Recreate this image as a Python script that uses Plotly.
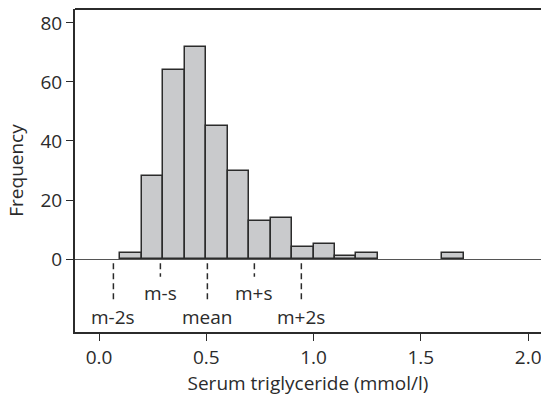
import plotly.graph_objects as go

# Histogram data (bin left edges, bin width 0.1 mmol/l)
bin_left = [0.1, 0.2, 0.3, 0.4, 0.5, 0.6, 0.7, 0.8, 0.9, 1.0, 1.1, 1.2, 1.6]
counts = [2, 28, 64, 72, 45, 30, 13, 14, 4, 5, 1, 2, 2]
bin_width = 0.1

# Reference lines: mean and standard deviation
mean_val = 0.505
sd_val = 0.219
ref_labels = ["m-2s", "m-s", "mean", "m+s", "m+2s"]
ref_mult = [-2, -1, 0, 1, 2]

x_ticks = [0.0, 0.5, 1.0, 1.5, 2.0]
x_tick_text = ["0.0", "0.5", "1.0", "1.5", "2.0"]
y_ticks = [0, 20, 40, 60, 80]

FONT = "Open Sans"
FS = 19
TXT = "#2b2b2b"
LINE = "#2b2b2b"

centers = [b + bin_width / 2 for b in bin_left]

fig = go.Figure()
fig.add_trace(go.Bar(
    x=centers, y=counts, width=bin_width,
    marker=dict(color="#c9cacc", line=dict(color="#2b2b2b", width=1.5)),
    showlegend=False, hoverinfo="skip",
))

shapes = []
annotations = []
for lab, k in zip(ref_labels, ref_mult):
    xv = mean_val + k * sd_val
    long_line = (k % 2 == 0)
    y_end = -13.9 if long_line else -6.0
    y_lab = -19.6 if long_line else -11.6
    shapes.append(dict(type="line", xref="x", yref="y", x0=xv, x1=xv,
                       y0=-1.4, y1=y_end,
                       line=dict(color=LINE, width=1.5, dash="6px,4px")))
    annotations.append(dict(x=xv, y=y_lab, xref="x", yref="y", text=lab,
                            showarrow=False, xanchor="center", yanchor="middle",
                            font=dict(family=FONT, size=FS, color=TXT)))

# top border line
shapes.append(dict(type="line", xref="paper", yref="paper", x0=0, x1=1,
                   y0=1, y1=1, line=dict(color=LINE, width=2)))

fig.update_layout(
    width=541, height=396,
    margin=dict(l=75, r=0, t=9, b=64),
    plot_bgcolor="white", paper_bgcolor="white",
    font=dict(family=FONT, size=FS, color=TXT),
    shapes=shapes, annotations=annotations,
    bargap=0,
    xaxis=dict(
        range=[-0.112, 2.06], tickvals=x_ticks, ticktext=x_tick_text,
        ticks="outside", ticklen=7, tickwidth=1.3, tickcolor=LINE,
        ticklabeloverflow="allow",
        showline=True, linecolor=LINE, linewidth=2,
        showgrid=False, zeroline=False,
        title=dict(text="Serum triglyceride (mmol/l)", standoff=0,
                   font=dict(family=FONT, size=FS, color=TXT)),
        tickfont=dict(family=FONT, size=FS, color=TXT),
    ),
    yaxis=dict(
        range=[-24.7, 84.7], tickvals=y_ticks,
        ticks="outside", ticklen=7, tickwidth=1.3, tickcolor=LINE,
        showline=True, linecolor=LINE, linewidth=2,
        showgrid=False, zeroline=True, zerolinecolor="#555555", zerolinewidth=1.3,
        title=dict(text="Frequency", standoff=12,
                   font=dict(family=FONT, size=FS, color=TXT)),
        tickfont=dict(family=FONT, size=FS, color=TXT),
    ),
)

fig.write_html("out.html")
